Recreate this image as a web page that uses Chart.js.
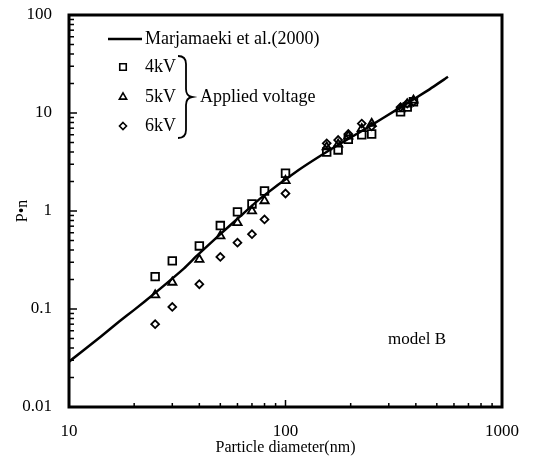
<!DOCTYPE html>
<html>
<head>
<meta charset="utf-8">
<script src="https://cdn.jsdelivr.net/npm/chart.js@4.4.1/dist/chart.umd.min.js"></script>
<style>
  html, body { margin: 0; padding: 0; background: #fff; }
  #wrap { width: 533px; height: 460px; }
</style>
</head>
<body>
<div id="wrap"><canvas id="chart" width="533" height="460"></canvas></div>
<script>
// axis decades
const xTickValues = [10, 100, 1000]
const yTickValues = [0.01, 0.1, 1, 10, 100]

// Marjamaeki et al.(2000) curve
const marjDiameter = [10, 14, 17, 20, 25, 34, 39, 50, 61, 76, 115, 165, 236, 335, 445, 563]
const marjValue = [0.029, 0.052, 0.074, 0.098, 0.146, 0.26, 0.35, 0.58, 0.86, 1.33, 2.62, 4.37, 6.98, 11.2, 16.5, 23.4]

// measured points, model B
const diameter = [25, 30, 40, 50, 60, 70, 80, 100, 155, 175, 195, 225, 250, 340, 365, 390]
const value4kV = [0.214, 0.31, 0.44, 0.71, 0.98, 1.18, 1.6, 2.43, 4.0, 4.2, 5.4, 6.0, 6.1, 10.3, 11.5, 13]
const value5kV = [0.139, 0.187, 0.32, 0.556, 0.76, 1.0, 1.27, 2.04, 4.5, 4.8, 5.8, 6.9, 7.8, 11, 12.3, 13.5]
const value6kV = [0.07, 0.105, 0.179, 0.34, 0.475, 0.58, 0.82, 1.51, 4.9, 5.3, 6.1, 7.8, 7.3, 11.5, 12.5, 13]

const serif = "'Liberation Serif', 'Times New Roman', serif"
const pts = (xs, ys) => xs.map((x, i) => ({ x: x, y: ys[i] }))

function marker(ctx, style, x, y, r) {
  ctx.beginPath()
  if (style === 'rect') {
    const s = r * Math.SQRT1_2
    ctx.rect(x - s, y - s, 2 * s, 2 * s)
  } else if (style === 'triangle') {
    ctx.moveTo(x, y - r)
    ctx.lineTo(x + r * 0.866, y + r * 0.5)
    ctx.lineTo(x - r * 0.866, y + r * 0.5)
    ctx.closePath()
  } else {
    ctx.moveTo(x, y - r)
    ctx.lineTo(x + r, y)
    ctx.lineTo(x, y + r)
    ctx.lineTo(x - r, y)
    ctx.closePath()
  }
  ctx.stroke()
}

// frame, inward minor ticks, legend and label
const decor = {
  id: 'decor',
  afterDraw(chart) {
    const ctx = chart.ctx
    const a = chart.chartArea
    const xs = chart.scales.x
    const ys = chart.scales.y
    ctx.save()
    ctx.strokeStyle = '#000'
    ctx.fillStyle = '#000'

    // ticks
    ctx.lineWidth = 1.5
    for (let k = -2; k < 2; k++) {
      for (let m = 1; m < 10; m++) {
        const py = ys.getPixelForValue(m * Math.pow(10, k))
        const len = m === 1 ? 8 : 5
        ctx.beginPath()
        ctx.moveTo(a.left, py)
        ctx.lineTo(a.left + len, py)
        ctx.stroke()
      }
    }
    for (let k = 1; k < 3; k++) {
      for (let m = 1; m < 10; m++) {
        const px = xs.getPixelForValue(m * Math.pow(10, k))
        const len = m === 1 ? 7 : 4
        ctx.beginPath()
        ctx.moveTo(px, a.bottom)
        ctx.lineTo(px, a.bottom - len)
        ctx.stroke()
      }
    }

    // frame
    ctx.lineWidth = 3
    ctx.strokeRect(a.left, a.top, a.right - a.left, a.bottom - a.top)

    // legend
    ctx.font = '18px ' + serif
    ctx.textBaseline = 'middle'
    ctx.textAlign = 'left'
    ctx.lineWidth = 2.5
    ctx.beginPath()
    ctx.moveTo(108, 39)
    ctx.lineTo(142, 39)
    ctx.stroke()
    ctx.fillText('Marjamaeki et al.(2000)', 145, 39)

    ctx.lineWidth = 1.6
    marker(ctx, 'rect', 123, 67, 4.6)
    marker(ctx, 'triangle', 123, 97, 4.2)
    marker(ctx, 'rectRot', 123, 126, 3.5)
    ctx.fillText('4kV', 145, 67)
    ctx.fillText('5kV', 145, 97)
    ctx.fillText('6kV', 145, 126)

    // brace
    ctx.lineWidth = 1.8
    ctx.beginPath()
    ctx.moveTo(178, 56)
    ctx.quadraticCurveTo(186, 56, 186, 64)
    ctx.lineTo(186, 89)
    ctx.quadraticCurveTo(186, 96, 192, 97)
    ctx.quadraticCurveTo(186, 98, 186, 105)
    ctx.lineTo(186, 130)
    ctx.quadraticCurveTo(186, 138, 178, 138)
    ctx.stroke()
    ctx.fillText('Applied voltage', 200, 97)

    ctx.font = '17px ' + serif
    ctx.fillText('model B', 388, 340)
    ctx.restore()
  }
}

const pointSet = (label, data, style, r) => ({
  label: label,
  data: data,
  showLine: false,
  pointStyle: style,
  pointRadius: r,
  pointHoverRadius: r,
  pointBorderWidth: 1.8,
  borderColor: '#000',
  backgroundColor: 'rgba(0,0,0,0)'
})

new Chart(document.getElementById('chart'), {
  type: 'scatter',
  data: {
    datasets: [
      {
        label: 'Marjamaeki et al.(2000)',
        data: pts(marjDiameter, marjValue),
        showLine: true,
        pointRadius: 0,
        borderColor: '#000',
        borderWidth: 2.5,
        tension: 0.15
      },
      pointSet('4kV', pts(diameter, value4kV), 'rect', 5.4),
      pointSet('5kV', pts(diameter, value5kV), 'triangle', 4.8),
      pointSet('6kV', pts(diameter, value6kV), 'rectRot', 3.9)
    ]
  },
  options: {
    responsive: false,
    animation: false,
    layout: { padding: { top: 15, right: 31, left: 0, bottom: 0 } },
    plugins: { legend: { display: false }, tooltip: { enabled: false } },
    scales: {
      x: {
        type: 'logarithmic',
        position: 'bottom',
        min: 10,
        max: 1000,
        grid: { display: false, drawTicks: false },
        border: { display: false },
        afterBuildTicks: s => { s.ticks = xTickValues.map(v => ({ value: v })) },
        afterFit: s => { s.height = 53; s.paddingLeft = 0; s.paddingRight = 0 },
        ticks: {
          autoSkip: false,
          maxRotation: 0,
          padding: 14,
          color: '#000',
          font: { family: serif, size: 17 },
          callback: v => String(v)
        },
        title: {
          display: true,
          text: 'Particle diameter(nm)',
          color: '#000',
          font: { family: serif, size: 16 },
          padding: { top: 0, bottom: 3 }
        }
      },
      y: {
        type: 'logarithmic',
        min: 0.01,
        max: 100,
        grid: { display: false, drawTicks: false },
        border: { display: false },
        afterBuildTicks: s => { s.ticks = yTickValues.map(v => ({ value: v })) },
        afterFit: s => { s.width = 69; s.paddingTop = 0; s.paddingBottom = 0 },
        ticks: {
          autoSkip: false,
          padding: 17,
          color: '#000',
          font: { family: serif, size: 17 },
          callback: v => String(v)
        },
        title: {
          display: true,
          text: 'P•n',
          color: '#000',
          font: { family: serif, size: 16 },
          padding: { top: 13, bottom: 0 }
        }
      }
    }
  },
  plugins: [decor]
})
</script>
</body>
</html>
